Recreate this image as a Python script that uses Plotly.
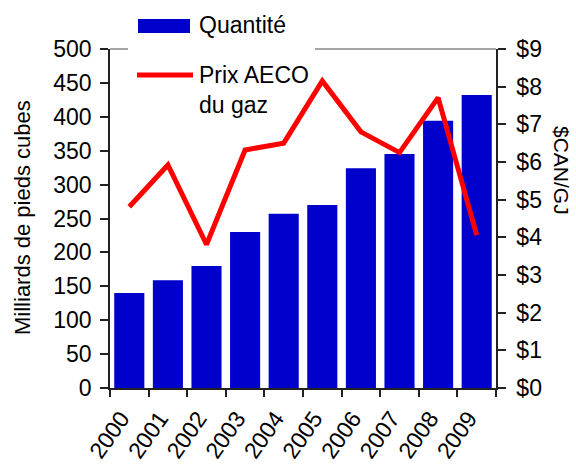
import plotly.graph_objects as go

# Annual volumes and AECO gas price
years = ["2000", "2001", "2002", "2003", "2004", "2005", "2006", "2007", "2008", "2009"]
quantite = [140, 159, 180, 230, 257, 270, 324, 345, 394, 432]
prix_aeco = [4.81, 5.92, 3.81, 6.32, 6.50, 8.15, 6.80, 6.25, 7.71, 4.06]

left_ticks = list(range(0, 501, 50))
right_ticks = list(range(0, 10))
right_labels = [f"${v}" for v in right_ticks]

FONT = "Liberation Sans, Arial, sans-serif"
AXIS = "#222222"
BLUE = "#0000CC"
RED = "#FF0000"
TICKFONT = dict(family=FONT, size=23, color="black")

fig = go.Figure()
fig.add_trace(go.Bar(x=years, y=quantite, marker=dict(color=BLUE, line=dict(width=0)),
                     name="Quantité", yaxis="y"))
fig.add_trace(go.Scatter(x=years, y=prix_aeco, mode="lines", name="Prix AECO du gaz",
                         line=dict(color=RED, width=5), yaxis="y2"))

W, H = 576, 466
L, R, T, B = 110, 80, 49, 78

fig.update_layout(
    width=W, height=H,
    margin=dict(l=L, r=R, t=T, b=B, pad=0),
    paper_bgcolor="white", plot_bgcolor="white",
    showlegend=False,
    bargap=0.22,
    font=dict(family=FONT, color="black"),
    xaxis=dict(type="category", range=[-0.5, 9.5], tickson="boundaries",
               ticks="outside", ticklen=7, tickcolor=AXIS, tickwidth=1.5,
               showline=True, linecolor=AXIS, linewidth=1.5,
               showgrid=False, zeroline=False, tickangle=-55, automargin=False,
               tickfont=dict(family=FONT, size=23, color="black"),
               ticklabelshift=-8, ticklabelstandoff=6),
    xaxis2=dict(overlaying="x", anchor="y", range=[-0.5, 9.5],
                tickvals=[i - 0.5 for i in range(11)], showticklabels=False,
                ticks="inside", ticklen=7, tickcolor=AXIS, tickwidth=1.5,
                showline=False, showgrid=False, zeroline=False, automargin=False),
    yaxis=dict(range=[0, 500], tickvals=left_ticks, ticks="outside", ticklen=8,
               tickcolor=AXIS, tickwidth=1.5, showline=True, linecolor=AXIS,
               linewidth=1.5, showgrid=False, zeroline=False, automargin=False,
               tickfont=TICKFONT, ticklabelstandoff=4),
    yaxis3=dict(overlaying="y", side="left", anchor="x", range=[0, 500],
                tickvals=left_ticks, showticklabels=False, ticks="inside",
                ticklen=7, tickcolor=AXIS, tickwidth=1.5, showline=False,
                showgrid=False, zeroline=False, automargin=False),
    yaxis2=dict(overlaying="y", side="right", anchor="x", range=[0, 9],
                tickvals=right_ticks, ticktext=right_labels,
                ticks="outside", ticklen=8, tickcolor=AXIS, tickwidth=1.5,
                showline=True, linecolor=AXIS, linewidth=1.5, automargin=False,
                showgrid=False, zeroline=False, tickfont=TICKFONT,
                ticklabelstandoff=6),
    yaxis4=dict(overlaying="y", side="right", anchor="x", range=[0, 9],
                tickvals=right_ticks, showticklabels=False, ticks="inside",
                ticklen=7, tickcolor=AXIS, tickwidth=1.5, showline=False,
                showgrid=False, zeroline=False, automargin=False),
)

pw, ph = W - L - R, H - T - B


def px(x):
    return (x - L) / pw


def py(y):
    return (H - B - y) / ph


shapes = [
    # top border of the plot area
    dict(type="line", xref="paper", yref="paper", x0=0, x1=1, y0=1, y1=1,
         line=dict(color="#888888", width=1.5), layer="below"),
    # legend background
    dict(type="rect", xref="paper", yref="paper", x0=px(128), x1=px(315),
         y0=py(56), y1=py(42), fillcolor="white", line=dict(width=0), layer="below"),
    # legend swatches
    dict(type="rect", xref="paper", yref="paper", x0=px(138), x1=px(190),
         y0=py(33), y1=py(19), fillcolor=BLUE, line=dict(width=0)),
    dict(type="line", xref="paper", yref="paper", x0=px(137), x1=px(193),
         y0=py(75), y1=py(75), line=dict(color=RED, width=5)),
]

annotations = [
    dict(text="Quantité", xref="paper", yref="paper", x=px(197), y=py(25),
         xanchor="left", yanchor="middle", showarrow=False,
         font=dict(family=FONT, size=23, color="black")),
    dict(text="Prix AECO<br>du gaz", xref="paper", yref="paper", x=px(197), y=py(90),
         xanchor="left", yanchor="middle", showarrow=False, align="left",
         font=dict(family=FONT, size=23, color="black")),
    dict(text="Milliards de pieds cubes", xref="paper", yref="paper", x=px(22), y=py(218),
         xanchor="center", yanchor="middle", showarrow=False, textangle=-90,
         font=dict(family=FONT, size=22, color="black")),
    dict(text="$CAN/GJ", xref="paper", yref="paper", x=px(562), y=py(170),
         xanchor="center", yanchor="middle", showarrow=False, textangle=90,
         font=dict(family=FONT, size=21, color="black")),
]

fig.update_layout(shapes=shapes, annotations=annotations)
fig.write_html("out.html")
